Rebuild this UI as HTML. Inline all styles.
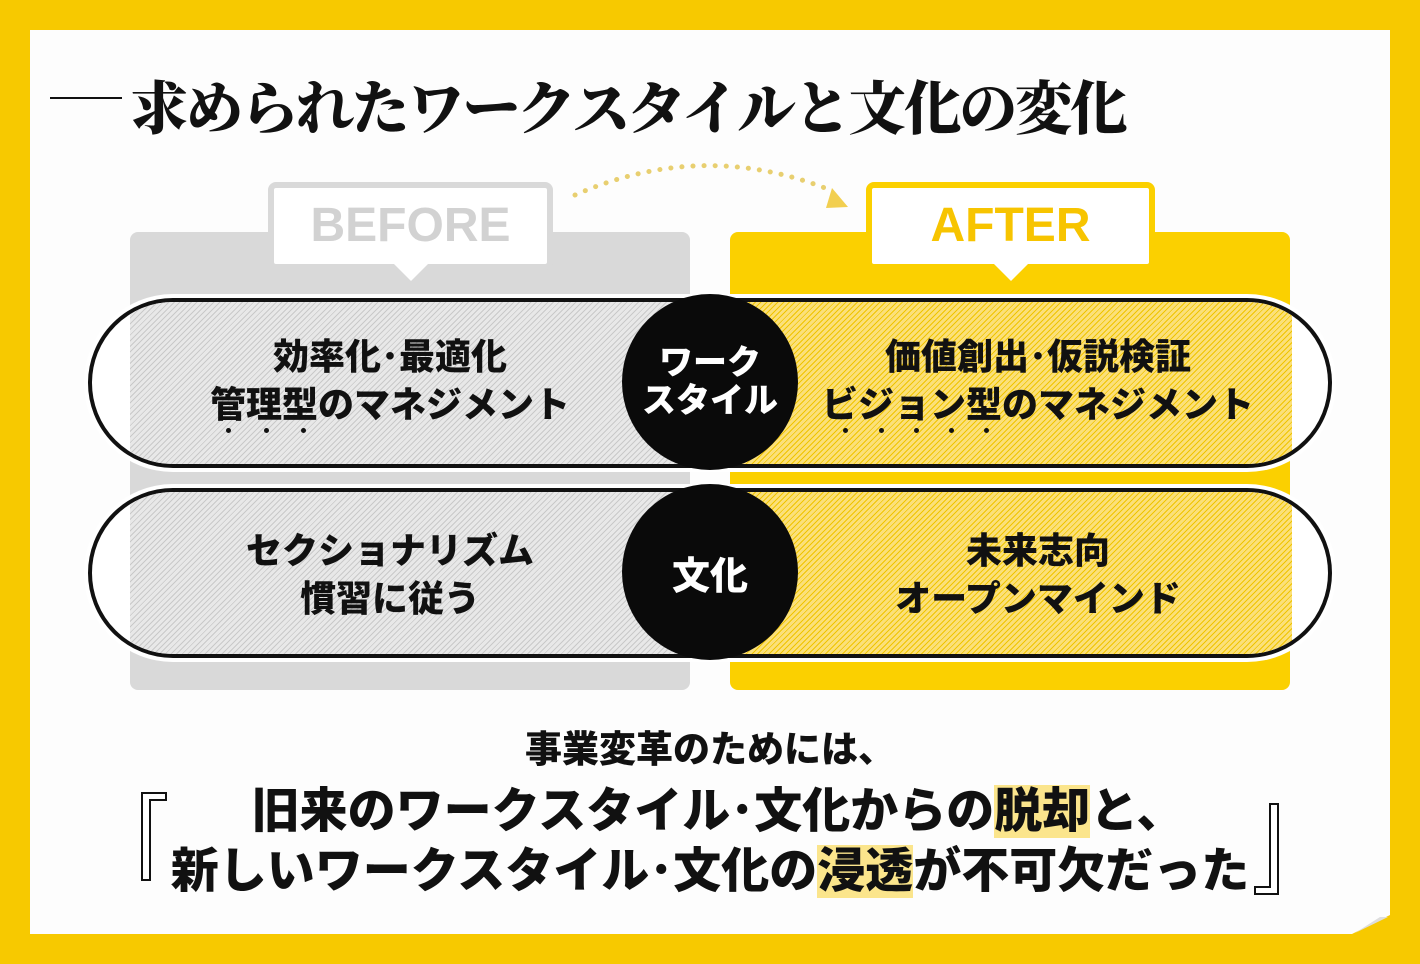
<!DOCTYPE html>
<html><head><meta charset="utf-8"><style>
body{margin:0;width:1420px;height:964px;background:#f7c900;position:relative;overflow:hidden;font-family:"Liberation Sans","Noto Sans CJK JP",sans-serif}
.card{position:absolute;left:30px;top:30px;width:1360px;height:904px;background:#fdfdfd}
.abs{position:absolute}
.title{left:130px;top:62px;font-family:"Noto Serif CJK JP","Noto Serif CJK SC",serif;font-weight:900;font-size:58px;letter-spacing:-2.6px;color:#111;white-space:nowrap}
.panel{position:absolute;top:232px;width:560px;height:458px;border-radius:8px}
.tab{position:absolute;top:182px;height:76px;border-radius:8px;background:#fff;text-align:center;font-weight:900;font-size:48px;line-height:76px}
.pill{position:absolute;left:88px;width:1236px;height:162px;border:4px solid #111;border-radius:85px;overflow:hidden;background:#fff;box-shadow:0 0 0 4px #fff}
.hg{position:absolute;left:38px;width:564px;top:0;bottom:0;background:repeating-linear-gradient(135deg,#e8e8e8 0 3px,#c9c9c9 3px 4px)}
.hy{position:absolute;left:602px;width:598px;top:0;bottom:0;background:repeating-linear-gradient(135deg,#fbe07a 0 3px,#f0c400 3px 4px)}
.circ{position:absolute;left:622px;width:176px;height:176px;border-radius:50%;background:#0a0a0a;color:#fff;font-weight:900;display:flex;align-items:center;justify-content:center;text-align:center}
.txt{position:absolute;text-align:center;font-weight:900;font-size:36px;line-height:48px;color:#111;white-space:nowrap}
.hl{background:#fbe58c}
.dot{position:absolute;width:5px;height:5px;border-radius:50%;background:#111;top:428px}
</style></head><body>
<div class="card"></div>
<div class="abs" style="left:50px;top:97px;width:72px;height:2px;background:#111"></div>
<div class="abs title">求められたワークスタイルと文化の変化</div>
<svg class="abs" style="left:560px;top:150px" width="300" height="70"><path d="M15 45 Q140 -10 265 38" fill="none" stroke="#e8cf70" stroke-width="5" stroke-dasharray="0.1 11" stroke-linecap="round"/><polygon points="266,58 288,57 272,38" fill="#f2cf50"/></svg>
<div class="panel" style="left:130px;background:#d9d9d9"></div>
<div class="panel" style="left:730px;background:#fbd000"></div>
<div class="tab" style="left:268px;width:273px;border:6px solid #d9d9d9;color:#d2d2d2">BEFORE</div>
<div class="abs" style="left:393px;top:263px;border-left:18px solid transparent;border-right:18px solid transparent;border-top:18px solid #fff"></div>
<div class="tab" style="left:866px;width:277px;border:6px solid #fbd000;color:#f7c400">AFTER</div>
<div class="abs" style="left:993px;top:263px;border-left:18px solid transparent;border-right:18px solid transparent;border-top:18px solid #fff"></div>

<div class="pill" style="top:298px"><div class="hg"></div><div class="hy"></div></div>
<div class="pill" style="top:488px"><div class="hg"></div><div class="hy"></div></div>

<div class="circ" style="top:294px;font-size:34px;line-height:38px">ワーク<br>スタイル</div>
<div class="circ" style="top:484px;font-size:38px">文化</div>

<div class="txt" style="left:190px;width:400px;top:333px">効率化･最適化<br>管理型のマネジメント</div>
<div class="dot" style="left:226px"></div><div class="dot" style="left:264px"></div><div class="dot" style="left:301px"></div>
<div class="txt" style="left:808px;width:460px;top:333px">価値創出･仮説検証<br>ビジョン型のマネジメント</div>
<div class="dot" style="left:843px"></div><div class="dot" style="left:879px"></div><div class="dot" style="left:914px"></div><div class="dot" style="left:949px"></div><div class="dot" style="left:984px"></div>
<div class="txt" style="left:310px;width:800px;top:726px;font-size:37px">事業変革のためには、</div>
<div class="txt" style="left:190px;width:400px;top:527px">セクショナリズム<br>慣習に従う</div>
<div class="txt" style="left:808px;width:460px;top:527px">未来志向<br>オープンマインド</div>

<div class="txt" style="left:100px;width:1220px;top:782px;font-size:48px;line-height:60px"><span style="margin-left:16px">旧来のワークスタイル･文化からの<span class="hl">脱却</span>と、</span><br>新しいワークスタイル･文化の<span class="hl">浸透</span>が不可欠だった</div>
<svg class="abs" style="left:0;top:0" width="1420" height="964">
<polygon points="142,793 166,793 166,800 150,800 150,880 142,880" fill="#fff" stroke="#111" stroke-width="2"/>
<polygon points="1270,804 1278,804 1278,894 1255,894 1255,887 1270,887" fill="#fff" stroke="#111" stroke-width="2"/>
<polygon points="1350,935 1390,915 1390,935" fill="#f7c900"/><polygon points="1355,933 1388,917 1380,917" fill="#ddd"/>
</svg>
</body></html>
